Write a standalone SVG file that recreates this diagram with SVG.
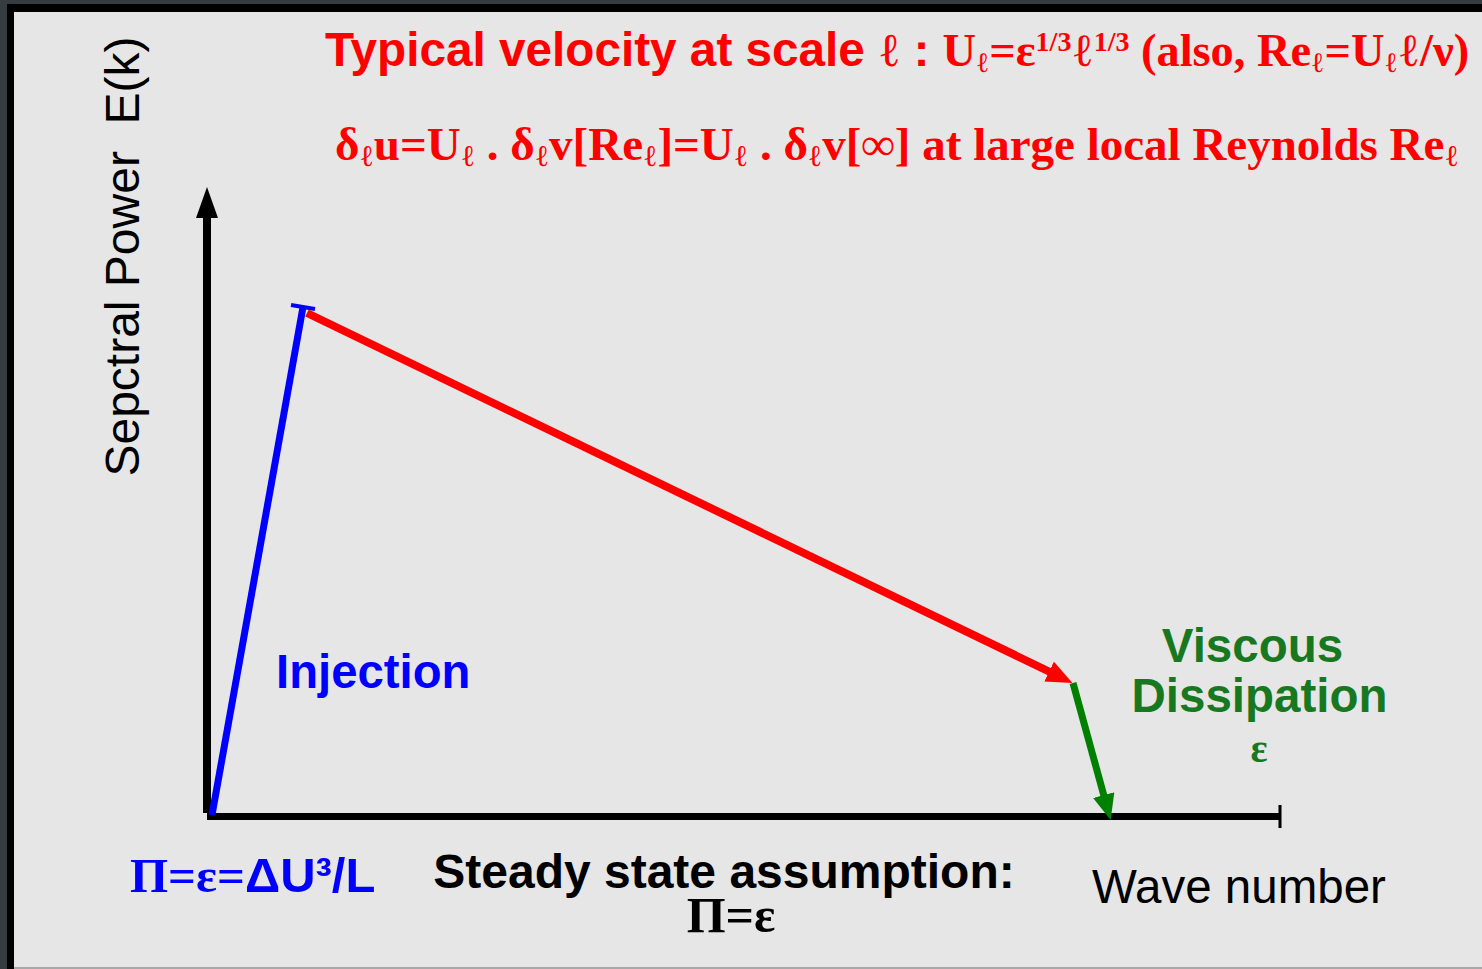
<svg xmlns="http://www.w3.org/2000/svg" width="1482" height="969" viewBox="0 0 1482 969">
<style>
.sb{font-family:"Liberation Sans",Arial,sans-serif;font-weight:bold}
.sn{font-family:"Liberation Sans",Arial,sans-serif;font-weight:normal}
.tb{font-family:"Liberation Serif","Times New Roman",serif;font-weight:bold}
.ell{font-family:"Liberation Serif","DejaVu Serif",serif;font-weight:normal}
.red{fill:#ff0000}
.blue{fill:#0000ff}
.green{fill:#18781f}
.blk{fill:#000000}
</style>
<defs>
<marker id="ahRed" viewBox="0 0 26 22" refX="1" refY="11" markerWidth="26" markerHeight="22" markerUnits="userSpaceOnUse" orient="auto"><path d="M0,0 L26,11 L0,22 z" fill="#ff0000"/></marker>
<marker id="ahGreen" viewBox="0 0 26 22" refX="1" refY="11" markerWidth="26" markerHeight="22" markerUnits="userSpaceOnUse" orient="auto"><path d="M0,0 L26,11 L0,22 z" fill="#008000"/></marker>
<marker id="ahBlack" viewBox="0 0 31 22" refX="1" refY="11" markerWidth="31" markerHeight="22" markerUnits="userSpaceOnUse" orient="auto"><path d="M0,0 L31,11 L0,22 z" fill="#000000"/></marker>
</defs>
<rect x="0" y="0" width="1482" height="969" fill="#363d40"/>
<rect x="7" y="4" width="1480" height="970" fill="#000000"/>
<rect x="14" y="12" width="1470" height="955" fill="#e6e6e6"/>
<rect x="14" y="967" width="1470" height="2" fill="#a8a8a8"/>

<g id="axes">
<line x1="207" y1="813" x2="207" y2="217" stroke="#000" stroke-width="8" marker-end="url(#ahBlack)"/>
<line x1="207" y1="816.5" x2="1280" y2="816.5" stroke="#000" stroke-width="7"/>
<line x1="1280" y1="805" x2="1280" y2="828" stroke="#000" stroke-width="3"/>
</g>

<g id="connectors">
<line x1="212" y1="815" x2="303" y2="307" stroke="#0000ff" stroke-width="7"/>
<line x1="291" y1="305" x2="315" y2="309" stroke="#0000ff" stroke-width="4"/>
<line x1="307" y1="313" x2="1050" y2="672" stroke="#ff0000" stroke-width="8" marker-end="url(#ahRed)"/>
<line x1="1073" y1="683" x2="1104" y2="796" stroke="#008000" stroke-width="7" marker-end="url(#ahGreen)"/>
</g>

<g id="title1">
<text x="325" y="66" font-size="46.4" class="red"><tspan class="sb" font-size="47.7">Typical velocity at scale </tspan><tspan class="ell" font-size="47">ℓ</tspan><tspan class="sb" font-size="47"> : </tspan><tspan class="tb">U</tspan><tspan class="ell" font-size="28" dy="6">ℓ</tspan><tspan class="tb" dy="-6">=ε</tspan><tspan class="tb" font-size="28" dy="-15">1/3</tspan><tspan class="ell" dy="15">ℓ</tspan><tspan class="tb" font-size="28" dy="-15">1/3</tspan><tspan class="tb" dy="15"> (also, Re</tspan><tspan class="ell" font-size="28" dy="6">ℓ</tspan><tspan class="tb" dy="-6">=U</tspan><tspan class="ell" font-size="28" dy="6">ℓ</tspan><tspan class="ell" dy="-6">ℓ</tspan><tspan class="tb">/ν)</tspan></text>
</g>

<g id="title2">
<text x="335" y="160" font-size="47" class="red tb"><tspan>δ</tspan><tspan class="ell" font-size="30" dy="6">ℓ</tspan><tspan dy="-6">u=U</tspan><tspan class="ell" font-size="30" dy="6">ℓ</tspan><tspan dy="-6"> . δ</tspan><tspan class="ell" font-size="30" dy="6">ℓ</tspan><tspan dy="-6">v[Re</tspan><tspan class="ell" font-size="30" dy="6">ℓ</tspan><tspan dy="-6">]=U</tspan><tspan class="ell" font-size="30" dy="6">ℓ</tspan><tspan dy="-6"> . δ</tspan><tspan class="ell" font-size="30" dy="6">ℓ</tspan><tspan dy="-6">v[∞] at large local Reynolds Re</tspan><tspan class="ell" font-size="30" dy="6">ℓ</tspan></text>
</g>

<g id="ylabel">
<text transform="translate(139,256.5) rotate(-90)" text-anchor="middle" font-size="48" class="sn blk" xml:space="preserve">Sepctral Power  E(k)</text>
</g>

<g id="injection">
<text x="276" y="688" font-size="47.3" class="sb blue">Injection</text>
</g>

<g id="dissipation">
<text x="1252.5" y="662" font-size="47.5" text-anchor="middle" class="sb green">Viscous</text>
<text x="1259.5" y="712" font-size="47.5" text-anchor="middle" class="sb green">Dissipation</text>
<text x="1259" y="762" font-size="40" text-anchor="middle" class="tb green">ε</text>
</g>

<g id="flux">
<text x="130" y="892" font-size="49" class="blue"><tspan class="tb">Π=ε=</tspan><tspan class="sb">ΔU³/L</tspan></text>
</g>

<g id="steady">
<text x="724" y="888" font-size="48" text-anchor="middle" class="sb blk">Steady state assumption:</text>
<text x="731" y="932" font-size="50" text-anchor="middle" class="tb blk">Π=ε</text>
</g>

<g id="wavenumber">
<text x="1092" y="903" font-size="47.5" class="sn blk">Wave number</text>
</g>
</svg>
